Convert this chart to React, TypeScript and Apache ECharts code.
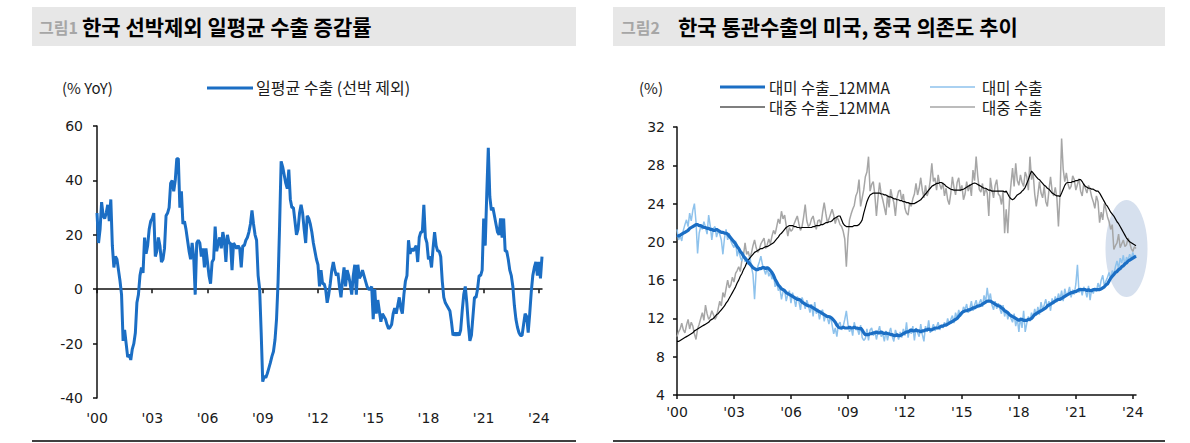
import React, { useEffect, useRef } from "react";
import * as echarts from "echarts";

// ---------- data ----------
const START_YEAR = 2000;
const TICK_LABELS = ["'00", "'03", "'06", "'09", "'12", "'15", "'18", "'21", "'24"];

// 일평균 수출 (선박 제외), % YoY, monthly Jan 2000 - Mar 2024
const DAILY_EXPORTS_YOY = [
  28, 17, 22, 32, 27, 26, 28, 31, 25, 33, 16, 8,
  12, 11, 7, 3, -2, -19, -15, -20, -25, -24, -26, -22,
  -20, -16, -5, -2, 5, 8, 6, 19, 13, 16, 22, 25,
  26, 28, 12, 14, 19, 16, 10, 11, 15, 27, 28, 30,
  39, 40, 36, 40, 48, 48, 30, 36, 24, 25, 22, 18,
  14, 11, 17, 12, -2, 17, 18, 17, 12, 15, 8, 15,
  10, 5, 2, 10, 11, 23, 14, 17, 19, 15, 21, 18,
  10, 20, 17, 17, 7, 17, 16, 15, 16, 15, 8, 16,
  16, 18, 19, 21, 24, 29, 24, 20, 18, 5, 0, -16,
  -34, -32, -32.5, -31, -29, -27, -24.7, -22.9, -18.6, -11, 2.7, 23.5,
  47, 45, 42, 39, 37, 44, 33, 30, 30, 25, 20, 22,
  28, 31, 28, 22, 17, 27, 26, 24, 21, 17, 14, 11,
  9, 1, 7, 2, 2, 0, -5, -2, 2, 7, 10, 7,
  5, 6, 1, -3, 3, 8, 1, 7, 5, 2, -2, 5,
  9, -2, 9, 4, 5, 7, 5, 3, 1, 0, 0, 1,
  -11, 0, -9, -4, -8, -12, -9, -10, -11, -13, -14.5, -14,
  -13, -9, -7, -9, -6, -3, -7, -9, -2, 3, 5, 18,
  13, 15, 14, 15, 16, 10, 19, 21, 21, 31, 19, 17,
  11, 12, 8, 15, 21, 16, 14, 14, 12, 3, -3, -5,
  -6, -7, -8, -12, -17, -16, -17, -16, -17, -15, -8, -2,
  1, -5, -13, -19, -17, -10, -3, -3, 0, 5, 5, 7,
  26, 16, 35, 52, 34, 29, 30, 27, 24, 21, 20, 26,
  19, 26, 14, 14, 11, 7, 5, 1, -6, -11, -14, -16,
  -17, -17, -13, -9, -10, -16, -9, -1, 5, 8, 10, 5,
  10, 4, 12,
];

// 대미 수출_12MMA (%)
const US_12MMA = [
  20.7, 20.6, 20.7, 20.8, 20.9, 21.0, 21.1, 21.2, 21.4, 21.5, 21.6, 21.7,
  21.8, 21.8, 21.7, 21.7, 21.6, 21.5, 21.5, 21.4, 21.4, 21.3, 21.3, 21.2,
  21.2, 21.3, 21.2, 21.1, 21.0, 21.0, 20.9, 20.9, 20.8, 20.6, 20.4, 20.2,
  20.0, 19.8, 19.5, 19.3, 19.0, 18.8, 18.5, 18.3, 18.1, 17.9, 17.7, 17.5,
  17.3, 17.2, 17.1, 17.1, 17.2, 17.2, 17.3, 17.3, 17.2, 17.3, 17.2, 17.0,
  16.8, 16.5, 16.1, 15.8, 15.5, 15.3, 15.1, 15.0, 14.9, 14.7, 14.6, 14.5,
  14.4, 14.3, 14.2, 14.1, 14.0, 14.0, 13.9, 13.7, 13.6, 13.5, 13.4, 13.3,
  13.3, 13.2, 13.1, 13.0, 12.9, 12.8, 12.7, 12.6, 12.5, 12.4, 12.3, 12.2,
  12.2, 12.1, 12.0, 11.8, 11.6, 11.3, 11.1, 11.0, 11.0, 11.1, 11.0, 11.0,
  11.0, 11.1, 11.0, 11.0, 11.1, 11.0, 11.0, 10.9, 11.0, 10.8, 10.5, 10.3,
  10.3, 10.3, 10.4, 10.4, 10.5, 10.5, 10.6, 10.5, 10.5, 10.6, 10.5, 10.4,
  10.5, 10.4, 10.4, 10.3, 10.3, 10.2, 10.2, 10.3, 10.2, 10.2, 10.3, 10.4,
  10.5, 10.6, 10.6, 10.7, 10.8, 10.7, 10.7, 10.8, 10.7, 10.7, 10.6, 10.7,
  10.7, 10.8, 10.8, 10.9, 10.8, 10.8, 10.9, 11.0, 11.0, 11.0, 11.1, 11.2,
  11.2, 11.3, 11.3, 11.4, 11.5, 11.6, 11.7, 11.8, 11.9, 12.0, 12.2, 12.4,
  12.6, 12.7, 12.8, 12.8, 12.9, 12.9, 13.0, 13.1, 13.1, 13.2, 13.3, 13.3,
  13.4, 13.5, 13.6, 13.7, 13.8, 13.8, 13.8, 13.7, 13.6, 13.5, 13.4, 13.3,
  13.3, 13.1, 13.0, 12.8, 12.7, 12.6, 12.4, 12.3, 12.2, 12.1, 12.0, 11.9,
  11.8, 11.9, 11.9, 11.8, 11.8, 11.8, 11.9, 11.9, 12.0, 12.2, 12.4, 12.5,
  12.6, 12.7, 12.8, 12.9, 13.0, 13.1, 13.3, 13.4, 13.5, 13.6, 13.7, 13.8,
  13.9, 14.0, 14.0, 14.1, 14.2, 14.3, 14.4, 14.5, 14.6, 14.7, 14.7, 14.8,
  14.8, 14.9, 15.0, 15.0, 15.0, 15.0, 15.0, 14.9, 15.0, 14.9, 14.9, 15.0,
  15.0, 15.0, 15.0, 15.0, 15.1, 15.2, 15.3, 15.5, 15.6, 15.9, 16.2, 16.4,
  16.6, 16.8, 16.9, 17.1, 17.2, 17.4, 17.5, 17.7, 17.8, 18.0, 18.1, 18.2,
  18.3, 18.4, 18.5,
];

// 대미 수출 (%), monthly
const US_MONTHLY = [
  21.3, 20.2, 20.6, 20.1, 21.2, 21.8, 22.3, 21.6, 23.0, 22.2, 23.3, 24.0,
  22.1, 18.8, 20.9, 21.6, 21.3, 22.1, 21.5, 20.8, 22.8, 21.7, 20.2, 21.4,
  21.6, 20.5, 21.2, 20.8, 20.2, 18.7, 20.4, 21.3, 20.2, 20.9, 20.1, 19.7,
  19.4, 20.1, 18.5, 19.2, 18.4, 18.0, 18.8, 17.9, 18.2, 17.6, 18.5, 17.4,
  16.6, 14.0, 16.9, 17.4, 17.9, 18.5, 17.6, 17.1, 16.6, 17.3, 16.4, 16.8,
  16.1, 16.6, 15.3, 15.8, 14.9, 15.2, 14.0, 14.8, 15.0, 13.8, 14.5, 14.9,
  13.6, 14.7, 14.1, 13.2, 14.3, 13.8, 12.9, 14.2, 13.7, 13.0, 13.9, 13.4,
  12.6, 13.5, 12.2, 13.7, 12.5, 13.0, 11.9, 12.7, 12.9, 11.7, 12.4, 12.1,
  11.4, 12.3, 11.3, 10.4, 11.0, 10.1, 11.4, 11.6, 10.8, 11.2, 11.9, 12.8,
  11.4, 10.6, 11.1, 10.2, 11.6, 10.8, 10.9, 10.3, 11.3, 10.0, 9.7, 9.9,
  10.9, 9.7, 10.8, 11.0, 10.2, 10.7, 9.8, 10.6, 11.2, 10.1, 10.4, 9.6,
  10.7, 9.7, 10.5, 11.0, 10.1, 9.6, 10.8, 10.3, 9.8, 10.6, 10.0, 10.9,
  10.2, 11.6, 10.0, 10.9, 10.4, 11.2, 9.7, 11.0, 10.5, 10.1, 11.4, 10.3,
  9.6, 11.2, 10.6, 11.8, 10.5, 10.9, 11.4, 10.7, 11.1, 11.6, 10.8, 11.3,
  11.0, 11.6, 11.2, 12.0, 11.4, 11.9, 12.3, 11.5, 12.6, 12.0, 12.9, 12.2,
  12.4, 13.2, 12.9, 13.5, 12.6, 13.0, 13.8, 12.8, 13.4, 13.9, 13.1, 13.6,
  14.0, 13.2, 14.4, 13.7, 15.2, 13.9, 14.6, 13.4, 12.9, 13.8, 13.0, 13.6,
  13.0, 12.5, 13.4, 12.2, 12.9, 11.9, 12.6, 12.0, 11.6, 12.5, 11.2, 12.0,
  10.6, 12.1, 11.0, 12.8, 10.6, 11.5, 12.2, 11.7, 12.6, 12.0, 13.0, 12.3,
  13.2, 12.4, 13.7, 12.9, 13.4, 14.0, 13.1, 13.8, 12.8, 14.1, 13.5, 14.3,
  13.7, 14.6, 14.0, 14.9, 13.8, 15.1, 14.4, 14.6, 15.3, 14.2, 15.0, 14.5,
  15.6, 17.6, 14.7, 15.2, 14.4, 15.3, 14.9, 14.2, 15.4, 13.9, 15.1, 14.6,
  15.2, 14.8, 15.7, 15.1, 16.0, 16.5, 15.4, 15.9, 16.3, 16.8, 16.1, 17.0,
  16.6, 17.4, 18.0, 17.2, 18.3, 17.8, 18.6, 17.5, 18.4, 18.1, 18.7, 18.2,
  18.9, 18.3, 18.6,
];

// 대중 수출_12MMA (%)
const CN_12MMA = [
  9.6, 9.6, 9.7, 9.8, 9.9, 10.0, 10.1, 10.2, 10.3, 10.4, 10.5, 10.7,
  10.8, 10.9, 11.0, 11.1, 11.2, 11.3, 11.4, 11.5, 11.6, 11.8, 11.9, 12.0,
  12.2, 12.4, 12.5, 12.7, 12.9, 13.1, 13.3, 13.6, 13.8, 14.1, 14.4, 14.7,
  15.0, 15.3, 15.7, 16.0, 16.4, 16.7, 17.1, 17.4, 17.8, 18.1, 18.3, 18.5,
  18.7, 18.9, 19.0, 19.1, 19.2, 19.3, 19.3, 19.4, 19.5, 19.5, 19.6, 19.7,
  19.8, 19.9, 20.1, 20.3, 20.5, 20.75, 20.9, 21.1, 21.3, 21.5, 21.6, 21.7,
  21.7, 21.7, 21.6, 21.6, 21.5, 21.5, 21.45, 21.5, 21.5, 21.5, 21.5, 21.5,
  21.5, 21.5, 21.6, 21.6, 21.7, 21.7, 21.7, 21.8, 21.8, 21.9, 22.0, 22.0,
  22.1, 22.1, 22.2, 22.4, 22.5, 22.6, 22.7, 22.7, 22.3, 21.9, 21.7, 21.6,
  21.6, 21.6, 21.6, 21.6, 21.7, 21.7, 21.7, 21.8, 22.0, 22.3, 23.0, 23.6,
  24.2, 24.6, 24.9, 25.0, 25.1, 25.1, 25.1, 25.1, 25.1, 25.0, 25.0, 24.9,
  24.9, 24.8, 24.7, 24.7, 24.6, 24.5, 24.5, 24.4, 24.4, 24.3, 24.3, 24.2,
  24.2, 24.1, 24.1, 24.0, 24.0, 24.0, 24.0, 24.1, 24.2, 24.3, 24.4, 24.6,
  24.8, 25.0, 25.2, 25.4, 25.6, 25.8, 25.9, 26.0, 26.1, 26.1, 26.2, 26.2,
  26.1, 26.0, 25.8, 25.7, 25.6, 25.5, 25.45, 25.4, 25.4, 25.4, 25.4, 25.4,
  25.45, 25.5, 25.6, 25.7, 25.8, 25.9, 26.0, 26.1, 26.15, 26.1, 26.0, 25.9,
  25.8, 25.7, 25.6, 25.6, 25.5, 25.4, 25.4, 25.3, 25.3, 25.3, 25.3, 25.3,
  25.3, 25.3, 25.3, 25.2, 25.3, 25.0, 24.7, 24.5, 24.4, 24.5, 24.7, 24.9,
  25.0, 25.1, 25.3, 25.45, 25.7, 26.1, 26.5, 27.0, 27.4, 27.2, 27.0, 26.8,
  26.6, 26.5, 26.3, 26.1, 25.9, 25.8, 25.6, 25.5, 25.3, 25.1, 25.0, 24.9,
  24.8, 24.8, 24.75, 25.1, 25.5, 25.9, 26.15, 26.2, 26.2, 26.2, 26.3, 26.3,
  26.4, 26.4, 26.5, 26.5, 26.3, 26.0, 25.8, 25.7, 25.6, 25.6, 25.5, 25.5,
  25.4, 25.3, 25.3, 25.1, 24.8, 24.5, 24.2, 23.9, 23.7, 23.4, 23.1, 22.9,
  22.7, 22.4, 22.1, 21.9, 21.6, 21.3, 21.0, 20.7, 20.4, 20.2, 20.0, 19.9,
  19.8, 19.7, 19.6,
];

// 대중 수출 (%), monthly
const CN_MONTHLY = [
  10.1, 10.6, 10.9, 11.5, 10.8, 10.5, 11.3, 11.9, 10.9, 11.6, 11.2, 10.4,
  9.8, 10.9, 11.4, 12.0, 12.6, 11.8, 13.4, 12.5, 11.9, 12.2, 12.8, 12.4,
  11.9, 12.2, 13.0, 13.8, 13.3, 14.7, 14.2, 15.1, 16.0, 15.2, 15.5, 16.3,
  15.8, 16.7, 17.0, 17.4, 16.9, 18.1, 18.6, 19.9, 18.7, 19.0, 18.3, 18.8,
  19.6, 20.2, 19.4, 18.9, 19.2, 19.8, 20.1, 20.4, 19.3, 19.7, 20.3, 19.8,
  20.6, 21.2, 20.8, 21.6, 22.4, 21.9, 23.2, 22.4, 22.8, 21.7, 20.6, 21.5,
  21.1, 21.3, 21.9, 22.3, 22.7, 21.9, 21.2, 21.6, 22.6, 23.9, 22.2, 21.6,
  21.8, 22.4, 22.7, 21.9, 21.3, 22.2, 22.3, 21.8, 23.1, 24.1, 23.0, 22.0,
  22.4, 22.9, 23.4, 22.8, 21.9, 22.6, 22.3, 21.8, 21.6, 21.1, 20.3, 17.4,
  20.4, 22.3, 22.9, 23.4, 23.8, 24.8, 25.2, 26.5, 23.7, 24.6, 25.45, 26.8,
  27.3, 28.9, 25.3, 26.0, 26.3, 24.9, 22.7, 24.6, 26.2, 25.0, 24.4, 23.6,
  22.8, 24.9, 23.6, 25.5, 24.7, 24.1, 22.7, 24.6, 25.3, 25.4, 24.3, 25.0,
  23.5, 23.0, 22.8, 24.1, 23.7, 24.5, 25.0, 26.1, 24.9, 25.6, 26.7, 25.4,
  24.6, 25.9, 24.8, 25.3, 26.4, 28.2, 26.3, 26.7, 25.4, 27.0, 26.0, 25.5,
  26.2, 24.8, 25.6, 24.4, 23.9, 25.1, 26.8, 25.7, 24.9, 26.2, 26.7, 25.3,
  25.9, 24.4, 25.0, 26.3, 25.3, 26.0, 24.8, 27.5, 26.4, 28.9, 26.9, 25.45,
  25.2, 26.1, 24.8, 25.6, 25.1, 22.7, 26.7, 25.5, 24.6, 25.9, 26.5, 25.0,
  24.8, 23.9, 25.3, 20.9, 23.4, 20.9, 24.2, 26.0, 27.7, 25.8, 28.2, 26.4,
  25.9, 27.0, 26.2, 25.8, 27.3, 26.8, 25.4, 28.9, 26.5, 27.2, 25.0, 23.7,
  24.9, 26.3, 25.1, 24.6, 25.8, 24.2, 23.7, 25.4, 26.8, 25.3, 24.8, 25.7,
  24.6, 21.6, 25.0, 30.8, 27.6, 26.3, 27.2, 26.1, 25.5, 25.8, 26.9, 26.5,
  25.4, 26.0, 26.6, 25.3, 24.8, 26.1, 25.6, 25.1, 25.9, 25.45, 24.7, 24.2,
  23.5, 24.8, 24.2, 22.0, 23.1, 22.3, 24.0, 23.4, 22.6, 22.1, 21.3, 21.8,
  19.2, 19.6, 19.9, 20.8, 19.4, 19.8, 20.2, 19.5, 19.7, 20.4, 19.9, 19.3,
  19.0, 19.5, 19.3,
];

// highlighted recent period on the right chart (data coordinates)
const HIGHLIGHT_MONTH = "2023-09";
const HIGHLIGHT_VALUE = 19.3;

// month categories
const MONTHS: string[] = [];
for (let i = 0; i < DAILY_EXPORTS_YOY.length; i++) {
  const y = START_YEAR + Math.floor(i / 12);
  const m = (i % 12) + 1;
  MONTHS.push(`${y}-${m < 10 ? "0" + m : m}`);
}

// ---------- styles ----------
const KR = '"Noto Sans CJK KR", "Noto Sans", sans-serif';
const NUM = '"DejaVu Sans", sans-serif';
const C_BLUE = "#1B6EC4";
const C_LIGHT = "#8EC2EC";
const C_BLACK = "#000000";
const C_GRAY = "#A6A6A6";
const C_AXIS = "#111111";
const C_BAR = "#E7E7E7";

const tickFormatter = (_v: string, idx: number) =>
  idx % 36 === 0 ? TICK_LABELS[idx / 36] ?? "" : "";

const axisLabelStyle = { fontFamily: NUM, fontSize: 14, color: "#1a1a1a" };

const mid = { verticalAlign: "middle", textVerticalAlign: "middle" };

function baseGraphics() {
  const els: any[] = [];
  // title bars
  els.push({ type: "rect", shape: { x: 32, y: 7, width: 544, height: 39 }, style: { fill: C_BAR }, silent: true });
  els.push({ type: "rect", shape: { x: 613, y: 7, width: 552, height: 39 }, style: { fill: C_BAR }, silent: true });
  els.push({ type: "text", x: 39, y: 27, style: { text: "그림1", font: `bold 16px ${KR}`, fill: "#A6A6A6", ...mid } });
  els.push({ type: "text", x: 82, y: 26, style: { text: "한국 선박제외 일평균 수출 증감률", font: `bold 21px ${KR}`, fill: "#000", ...mid } });
  els.push({ type: "text", x: 621, y: 27, style: { text: "그림2", font: `bold 16px ${KR}`, fill: "#A6A6A6", ...mid } });
  els.push({ type: "text", x: 678, y: 26, style: { text: "한국 통관수출의 미국, 중국 의존도 추이", font: `bold 21px ${KR}`, fill: "#000", ...mid } });
  // bottom rules
  els.push({ type: "line", shape: { x1: 32, y1: 441, x2: 576, y2: 441 }, style: { stroke: "#000", lineWidth: 1.5 } });
  els.push({ type: "line", shape: { x1: 613, y1: 441, x2: 1165, y2: 441 }, style: { stroke: "#000", lineWidth: 1.5 } });
  // left unit + legend
  els.push({ type: "text", x: 62, y: 87, style: { text: "(% YoY)", font: `15px ${KR}`, fill: "#1a1a1a", ...mid } });
  els.push({ type: "line", shape: { x1: 207, y1: 88, x2: 253, y2: 88 }, style: { stroke: C_BLUE, lineWidth: 3 } });
  els.push({ type: "text", x: 256, y: 87, style: { text: "일평균 수출 (선박 제외)", font: `16px ${KR}`, fill: "#1a1a1a", ...mid } });
  // right unit + legend
  els.push({ type: "text", x: 639, y: 87, style: { text: "(%)", font: `15px ${KR}`, fill: "#1a1a1a", ...mid } });
  const legendItems = [
    { x: 720, y: 87, color: C_BLUE, w: 3, label: "대미 수출_12MMA", tx: 769 },
    { x: 930, y: 87, color: C_LIGHT, w: 1.5, label: "대미 수출", tx: 982 },
    { x: 720, y: 107, color: C_BLACK, w: 1.2, label: "대중 수출_12MMA", tx: 769 },
    { x: 930, y: 107, color: C_GRAY, w: 1.5, label: "대중 수출", tx: 982 },
  ];
  legendItems.forEach((it) => {
    els.push({ type: "line", shape: { x1: it.x, y1: it.y, x2: it.x + 45, y2: it.y }, style: { stroke: it.color, lineWidth: it.w } });
    els.push({ type: "text", x: it.tx, y: it.y, style: { text: it.label, font: `15.5px ${KR}`, fill: "#1a1a1a", ...mid } });
  });
  return els;
}

function buildOption(extra: any[]) {
  return {
    animation: false,
    grid: [
      { left: 97, top: 126, width: 445, height: 272, containLabel: false },
      { left: 677, top: 127, width: 459, height: 268, containLabel: false },
    ],
    xAxis: [
      {
        gridIndex: 0, type: "category", data: MONTHS, boundaryGap: false,
        axisLine: { onZero: true, lineStyle: { color: C_AXIS, width: 1.5 } },
        axisTick: { show: true, interval: 35, length: 4, lineStyle: { color: C_AXIS, width: 1.5 } },
        axisLabel: { show: false }, splitLine: { show: false },
      },
      {
        gridIndex: 0, type: "category", data: MONTHS, boundaryGap: false, position: "bottom",
        axisLine: { show: false, onZero: false }, axisTick: { show: false },
        axisLabel: { interval: 35, formatter: tickFormatter, margin: 13, ...axisLabelStyle },
        splitLine: { show: false },
      },
      {
        gridIndex: 1, type: "category", data: MONTHS, boundaryGap: false,
        axisLine: { onZero: false, lineStyle: { color: C_AXIS, width: 1.5 } },
        axisTick: { show: true, interval: 35, length: 4, lineStyle: { color: C_AXIS, width: 1.5 } },
        axisLabel: { interval: 35, formatter: tickFormatter, margin: 10, ...axisLabelStyle },
        splitLine: { show: false },
      },
    ],
    yAxis: [
      {
        gridIndex: 0, type: "value", min: -40, max: 60, interval: 20,
        axisLine: { show: true, lineStyle: { color: C_AXIS, width: 1.5 } },
        axisTick: { show: true, length: 4, lineStyle: { color: C_AXIS, width: 1.5 } },
        axisLabel: { margin: 14, ...axisLabelStyle }, splitLine: { show: false },
      },
      {
        gridIndex: 1, type: "value", min: 4, max: 32, interval: 4,
        axisLine: { show: true, lineStyle: { color: C_AXIS, width: 1.5 } },
        axisTick: { show: true, length: 4, lineStyle: { color: C_AXIS, width: 1.5 } },
        axisLabel: { margin: 12, ...axisLabelStyle }, splitLine: { show: false },
      },
    ],
    series: [
      {
        name: "일평균 수출 (선박 제외)", type: "line", xAxisIndex: 0, yAxisIndex: 0,
        data: DAILY_EXPORTS_YOY, showSymbol: false, symbol: "none",
        lineStyle: { color: C_BLUE, width: 3 }, z: 3,
      },
      {
        name: "대중 수출", type: "line", xAxisIndex: 2, yAxisIndex: 1,
        data: CN_MONTHLY, showSymbol: false, symbol: "none",
        lineStyle: { color: C_GRAY, width: 1.5 }, z: 3,
      },
      {
        name: "대미 수출", type: "line", xAxisIndex: 2, yAxisIndex: 1,
        data: US_MONTHLY, showSymbol: false, symbol: "none",
        lineStyle: { color: C_LIGHT, width: 1.5 }, z: 4,
      },
      {
        name: "대중 수출_12MMA", type: "line", xAxisIndex: 2, yAxisIndex: 1,
        data: CN_12MMA, showSymbol: false, symbol: "none",
        lineStyle: { color: C_BLACK, width: 1.2 }, z: 5,
      },
      {
        name: "대미 수출_12MMA", type: "line", xAxisIndex: 2, yAxisIndex: 1,
        data: US_12MMA, showSymbol: false, symbol: "none",
        lineStyle: { color: C_BLUE, width: 3.2 }, z: 6,
      },
    ],
    graphic: { elements: [...baseGraphics(), ...extra] },
  };
}

export default function App() {
  const ref = useRef<HTMLDivElement>(null);
  useEffect(() => {
    if (!ref.current) return;
    const chart = echarts.init(ref.current, undefined, { renderer: "svg" });
    chart.setOption(buildOption([]));
    const p = chart.convertToPixel({ xAxisIndex: 2, yAxisIndex: 1 } as any, [HIGHLIGHT_MONTH, HIGHLIGHT_VALUE]) as number[];
    const ellipse = {
      type: "ellipse",
      shape: { cx: p[0], cy: p[1], rx: 21, ry: 48.5 },
      style: { fill: "#D6E0EE" },
      z: 1,
      silent: true,
    };
    chart.setOption(buildOption([ellipse]), true);
    return () => chart.dispose();
  }, []);
  return (
    <div
      ref={ref}
      style={{ position: "fixed", left: 0, top: 0, width: 1190, height: 443, background: "#fff" }}
    />
  );
}
